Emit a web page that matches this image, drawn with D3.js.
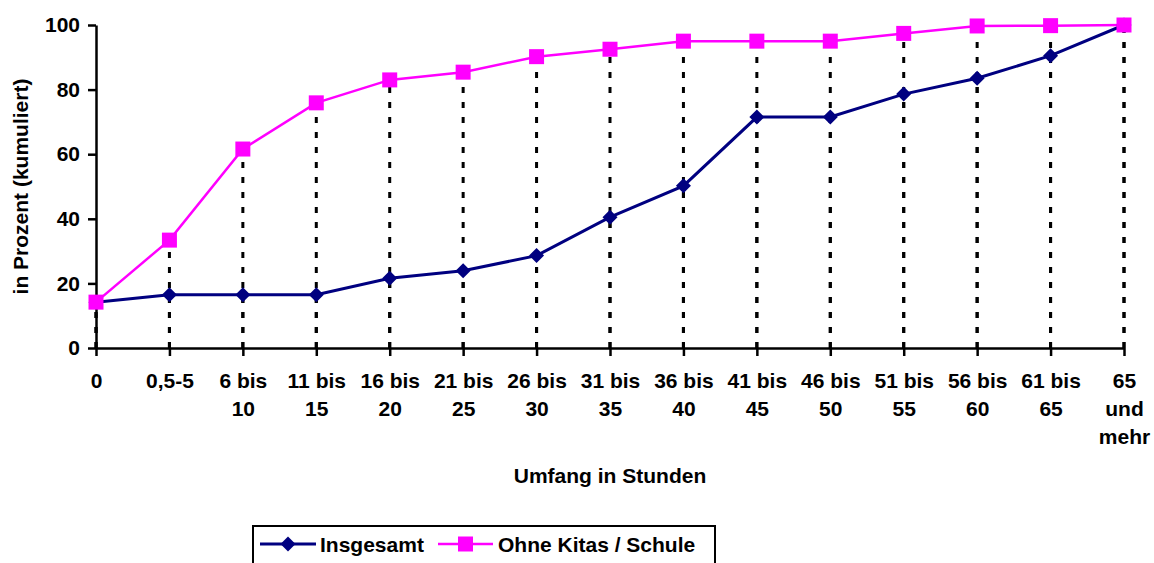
<!DOCTYPE html>
<html lang="de">
<head>
  <meta charset="UTF-8">
  <title>Umfang in Stunden</title>
  <script src="https://d3js.org/d3.v7.min.js"></script>
  <style>
    body { margin: 0; background: white; }
    svg { display: block; font-family: Arial, "Liberation Sans", sans-serif; font-weight: bold; }
    .axis path, .axis line { stroke: black; stroke-width: 2.5px; }
    .axis text { font-size: 21px; font-weight: bold; fill: black; }
    .drop { stroke: black; stroke-width: 3px; stroke-dasharray: 6,9; }
  </style>
</head>
<body>
  <div id="chart"></div>
  <script>
    const categories = ["0", "0,5-5", "6 bis 10", "11 bis 15", "16 bis 20", "21 bis 25", "26 bis 30",
      "31 bis 35", "36 bis 40", "41 bis 45", "46 bis 50", "51 bis 55", "56 bis 60", "61 bis 65", "65 und mehr"];
    const tickLines = [["0"], ["0,5-5"], ["6 bis", "10"], ["11 bis", "15"], ["16 bis", "20"], ["21 bis", "25"],
      ["26 bis", "30"], ["31 bis", "35"], ["36 bis", "40"], ["41 bis", "45"], ["46 bis", "50"],
      ["51 bis", "55"], ["56 bis", "60"], ["61 bis", "65"], ["65", "und", "mehr"]];
    const insgesamt = [14.2, 16.5, 16.5, 16.5, 21.6, 23.9, 28.6, 40.5, 50.2, 71.5, 71.5, 78.6, 83.5, 90.5, 100];
    const ohneKitas = [14.2, 33.4, 61.6, 75.9, 83.0, 85.4, 90.2, 92.5, 95.0, 95.0, 95.0, 97.4, 99.7, 99.8, 100];
    const yTicks = [0, 20, 40, 60, 80, 100];

    const width = 1154, height = 563;
    const svg = d3.select("#chart").append("svg")
      .attr("width", width)
      .attr("height", height);

    const x = d3.scalePoint().domain(categories).range([96, 1124]);
    const y = d3.scaleLinear().domain([0, 100]).range([348, 25]);

    const series = [
      { name: "Insgesamt", values: insgesamt, color: "#000080", width: 3, marker: "diamond" },
      { name: "Ohne Kitas / Schule", values: ohneKitas, color: "#FF00FF", width: 2.5, marker: "square" }
    ];

    // drop lines (drawn from the axis up so both series share the dash phase)
    series.forEach(s => {
      svg.append("g").selectAll("line")
        .data(s.values)
        .enter().append("line")
        .attr("class", "drop")
        .attr("x1", (d, i) => x(categories[i]))
        .attr("x2", (d, i) => x(categories[i]))
        .attr("y1", y(0))
        .attr("y2", d => y(d));
    });

    // axes
    svg.append("g")
      .attr("class", "axis")
      .attr("transform", `translate(96,0)`)
      .call(d3.axisLeft(y).tickValues(yTicks).tickSize(8).tickPadding(8).tickSizeOuter(0));

    const xAxis = svg.append("g")
      .attr("class", "axis")
      .attr("transform", `translate(0,${y(0)})`)
      .call(d3.axisBottom(x).tickSize(8).tickSizeOuter(0));

    xAxis.selectAll(".tick text")
      .text(null)
      .attr("y", 25)
      .attr("dy", null)
      .each(function(d, i) {
        const t = d3.select(this);
        tickLines[i].forEach((line, j) => {
          t.append("tspan")
            .attr("x", 0)
            .attr("dy", j === 0 ? "0.71em" : 28)
            .text(line);
        });
      });

    const line = d3.line()
      .x((d, i) => x(categories[i]))
      .y(d => y(d));

    const diamond = r => `M0,${-r}L${r},0L0,${r}L${-r},0Z`;
    const square = r => `M${-r},${-r}H${r}V${r}H${-r}Z`;

    series.forEach(s => {
      svg.append("path")
        .datum(s.values)
        .attr("fill", "none")
        .attr("stroke", s.color)
        .attr("stroke-width", s.width)
        .attr("d", line);
    });

    series.forEach(s => {
      svg.append("g").selectAll("path")
        .data(s.values)
        .enter().append("path")
        .attr("transform", (d, i) => `translate(${x(categories[i])},${y(d)})`)
        .attr("d", s.marker === "diamond" ? diamond(7.5) : square(7.5))
        .attr("fill", s.color);
    });

    // axis titles
    svg.append("text")
      .attr("transform", `translate(28,${(y(0) + y(100)) / 2}) rotate(-90)`)
      .attr("text-anchor", "middle")
      .attr("font-size", 21)
      .text("in Prozent (kumuliert)");

    svg.append("text")
      .attr("x", (x.range()[0] + x.range()[1]) / 2)
      .attr("y", 483)
      .attr("text-anchor", "middle")
      .attr("font-size", 21)
      .text("Umfang in Stunden");

    // legend
    const legend = svg.append("g");
    legend.append("rect")
      .attr("x", 253)
      .attr("y", 526)
      .attr("width", 462)
      .attr("height", 60)
      .attr("fill", "white")
      .attr("stroke", "black")
      .attr("stroke-width", 2);

    const legendItems = [
      { s: series[0], x0: 260, x1: 316, tx: 320 },
      { s: series[1], x0: 438, x1: 493, tx: 498 }
    ];
    legendItems.forEach(it => {
      legend.append("line")
        .attr("x1", it.x0).attr("x2", it.x1)
        .attr("y1", 544).attr("y2", 544)
        .attr("stroke", it.s.color)
        .attr("stroke-width", it.s.width);
      legend.append("path")
        .attr("transform", `translate(${(it.x0 + it.x1) / 2},544)`)
        .attr("d", it.s.marker === "diamond" ? diamond(7.5) : square(7.5))
        .attr("fill", it.s.color);
      legend.append("text")
        .attr("x", it.tx)
        .attr("y", 552)
        .attr("font-size", 21)
        .text(it.s.name);
    });
  </script>
</body>
</html>
